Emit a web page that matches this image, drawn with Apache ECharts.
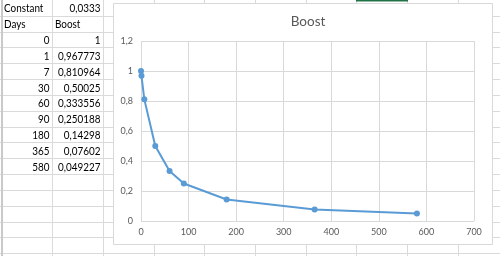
<!DOCTYPE html>
<html>
<head>
<meta charset="utf-8">
<script src="https://cdn.jsdelivr.net/npm/echarts@6/dist/echarts.min.js"></script>
<style>
html,body{margin:0;padding:0;background:#fff;}
#c{width:500px;height:256px;}
</style>
</head>
<body>
<div id="c"></div>
<script>
// ---- data ----
const constantLabel = 'Constant';
const constantValue = 0.0333;
const headerDays = 'Days';
const headerBoost = 'Boost';
const days = [0, 1, 7, 30, 60, 90, 180, 365, 580];
const boost = [1, 0.967773, 0.810964, 0.50025, 0.333556, 0.250188, 0.14298, 0.07602, 0.049227];
const chartTitle = 'Boost';
const xTicks = [0, 100, 200, 300, 400, 500, 600, 700];
const yTicks = [0, 0.2, 0.4, 0.6, 0.8, 1, 1.2];

const fmt = v => String(v).replace('.', ',');
const FONT = 'Lato, "Open Sans", sans-serif';

// ---- spreadsheet background ----
const ROW_H = 15.83;
const COL_W = 50.65;
const COL0 = 1.7;
const gridColor = '#dadada';
const graphics = [];
for (let k = 1; k <= 16; k++) {
  const y = Math.round(ROW_H * k) + 0.5;
  graphics.push({type: 'line', z: -20, shape: {x1: 0, y1: y, x2: 500, y2: y}, style: {stroke: gridColor, lineWidth: 1}});
}
for (let k = 1; k <= 10; k++) {
  const x = Math.round(COL0 + COL_W * k) + 0.5;
  graphics.push({type: 'line', z: -20, shape: {x1: x, y1: 0, x2: x, y2: 256}, style: {stroke: gridColor, lineWidth: 1}});
}
graphics.push({type: 'line', z: -19, shape: {x1: 2, y1: 0, x2: 2, y2: 256}, style: {stroke: '#c9c9c9', lineWidth: 2}});
graphics.push({type: 'line', z: -19, shape: {x1: 356, y1: 0.5, x2: 408, y2: 0.5}, style: {stroke: '#217346', lineWidth: 2}});

// table cells
const colAx = 4, colArx = 49.5, colBx = 55, colBrx = 100.5;
function cellText(text, x, row, align) {
  graphics.push({type: 'text', z: -18, x: x, y: ROW_H * row + ROW_H / 2 + 1, scaleX: 0.9,
    style: {
      text: text, x: 0, y: 0, align: align, verticalAlign: 'middle',
      font: '11px ' + FONT, fill: '#000'
    }});
}
cellText(constantLabel, colAx, 0, 'left');
cellText(fmt(constantValue), colBrx, 0, 'right');
cellText(headerDays, colAx, 1, 'left');
cellText(headerBoost, colBx, 1, 'left');
days.forEach((d, i) => {
  cellText(fmt(d), colArx, i + 2, 'right');
  cellText(fmt(boost[i]), colBrx, i + 2, 'right');
});

// chart frame
graphics.push({type: 'rect', z: -10, shape: {x: 113.5, y: 3.5, width: 379, height: 241}, style: {fill: '#fff', stroke: '#d9d9d9', lineWidth: 1}});

const chart = echarts.init(document.getElementById('c'), null, {renderer: 'canvas'});
chart.setOption({
  animation: false,
  backgroundColor: '#fff',
  graphic: graphics,
  title: {
    text: chartTitle, left: 303, top: 10, textAlign: 'center',
    textStyle: {fontFamily: FONT, fontSize: 13.5, fontWeight: 'normal', color: '#595959'}
  },
  grid: {left: 141, top: 41, width: 333, height: 180, containLabel: false},
  xAxis: {
    type: 'value', min: xTicks[0], max: xTicks[xTicks.length - 1], interval: xTicks[1] - xTicks[0],
    axisLine: {show: false}, axisTick: {show: false},
    splitLine: {show: true, lineStyle: {color: '#d9d9d9', width: 1}},
    axisLabel: {color: '#595959', fontFamily: FONT, fontSize: 9, margin: 7, formatter: v => fmt(v)}
  },
  yAxis: {
    type: 'value', min: yTicks[0], max: yTicks[yTicks.length - 1], interval: 0.2,
    axisLine: {show: false}, axisTick: {show: false},
    splitLine: {show: true, lineStyle: {color: '#d9d9d9', width: 1}},
    axisLabel: {color: '#595959', fontFamily: FONT, fontSize: 9, margin: 8,
      formatter: v => fmt(Math.round(v * 10) / 10)}
  },
  series: [{
    type: 'line',
    data: days.map((d, i) => [d, boost[i]]),
    symbol: 'circle', symbolSize: 6, showSymbol: true,
    lineStyle: {color: '#5b9bd5', width: 2},
    itemStyle: {color: '#5b9bd5'},
    z: 3
  }]
});
</script>
</body>
</html>
